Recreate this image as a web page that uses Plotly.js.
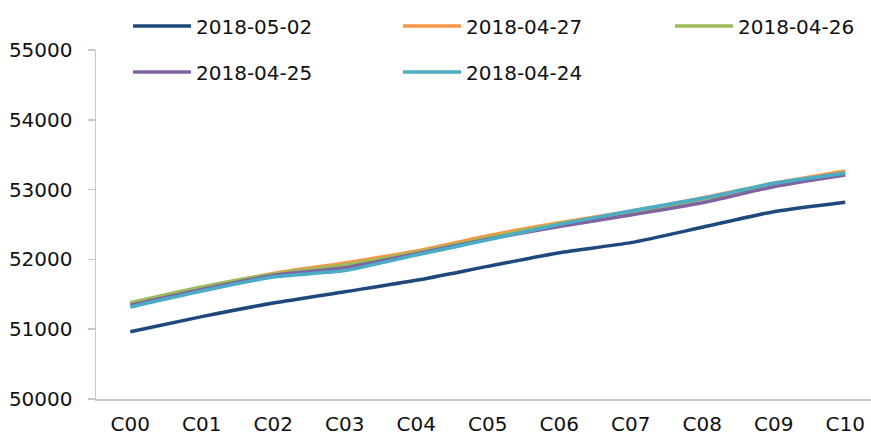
<!DOCTYPE html>
<html>
<head>
<meta charset="utf-8">
<script src="https://cdn.plot.ly/plotly-3.0.1.min.js"></script>
<style>html,body{margin:0;padding:0;background:#fff;}#chart{width:871px;height:440px;}</style>
</head>
<body>
<div id="chart"></div>
<script>
var categories = ["C00","C01","C02","C03","C04","C05","C06","C07","C08","C09","C10"];
var seriesNames = ["2018-05-02","2018-04-27","2018-04-26","2018-04-25","2018-04-24"];
var s20180502 = [50964, 51180, 51375, 51537, 51700, 51900, 52096, 52240, 52460, 52683, 52818];
var s20180427 = [51360, 51590, 51800, 51950, 52120, 52340, 52526, 52690, 52880, 53090, 53266];
var s20180426 = [51380, 51605, 51790, 51920, 52100, 52310, 52510, 52670, 52860, 53070, 53240];
var s20180425 = [51345, 51570, 51770, 51880, 52080, 52290, 52470, 52636, 52812, 53042, 53209];
var s20180424 = [51318, 51547, 51748, 51840, 52063, 52280, 52502, 52693, 52875, 53090, 53233];
var seriesValues = [s20180502, s20180427, s20180426, s20180425, s20180424];
var colors = ["#1F497D", "#F79646", "#9BBB59", "#8064A2", "#4BACC6"];

var font = "'DejaVu Sans', sans-serif";
var textColor = "#111";
var legendIds = ["legend", "legend2", "legend3", "legend4", "legend5"];
var legendPos = [[128, 26], [398, 26], [670, 26], [128, 72], [398, 72]];

var traces = seriesValues.map(function (vals, i) {
  return {
    type: "scatter",
    mode: "lines",
    x: categories,
    y: vals,
    name: seriesNames[i],
    legend: legendIds[i],
    line: {color: colors[i], width: 3.5, shape: "spline", smoothing: 0.6}
  };
});

var layout = {
  width: 871, height: 440,
  margin: {l: 96, r: 0, t: 50, b: 41, autoexpand: false},
  paper_bgcolor: "#fff", plot_bgcolor: "#fff",
  showlegend: true,
  font: {family: font, size: 20, color: textColor},
  xaxis: {
    type: "category",
    range: [-0.48, 10.36],
    showline: true, linecolor: "#C8C8C8", linewidth: 1.5,
    ticks: "", showgrid: false, zeroline: false,
    ticklabelstandoff: 6,
    tickfont: {family: font, size: 20, color: textColor},
    fixedrange: true
  },
  yaxis: {
    range: [50000, 55000],
    dtick: 1000, tick0: 50000, tickformat: "d",
    showline: true, linecolor: "#C8C8C8", linewidth: 1.5,
    ticks: "outside", ticklen: 7, tickcolor: "#C8C8C8", tickwidth: 1.5,
    showgrid: false, zeroline: false,
    ticklabelstandoff: 11,
    tickfont: {family: font, size: 20, color: textColor},
    fixedrange: true
  }
};

legendIds.forEach(function (id, i) {
  layout[id] = {
    orientation: "h",
    xref: "container", yref: "container",
    x: legendPos[i][0] / 871, y: 1 - legendPos[i][1] / 440,
    xanchor: "left", yanchor: "middle",
    font: {family: font, size: 20, color: textColor},
    itemwidth: 58,
    bgcolor: "rgba(0,0,0,0)"
  };
});

Plotly.newPlot("chart", traces, layout, {displayModeBar: false, staticPlot: true});
</script>
</body>
</html>
